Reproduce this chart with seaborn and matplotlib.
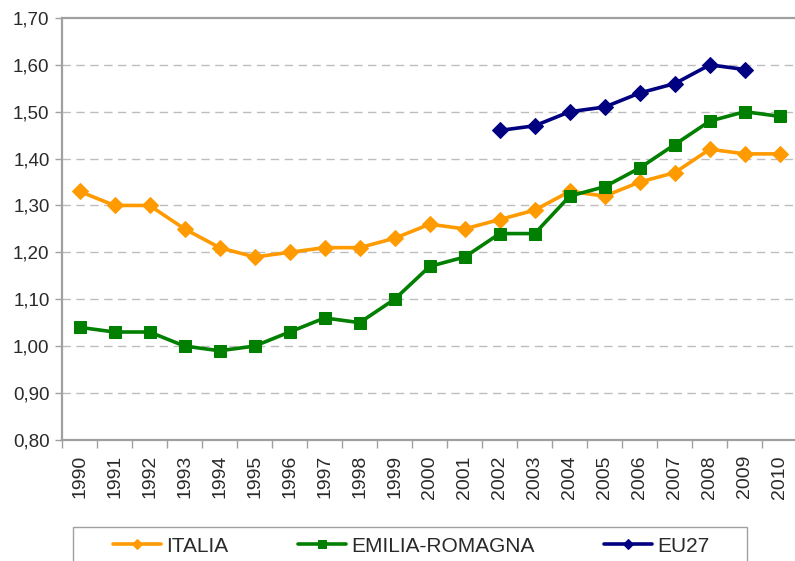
import matplotlib
matplotlib.use("Agg")
import matplotlib.pyplot as plt
from matplotlib.patches import Rectangle
from matplotlib.ticker import FixedLocator, FuncFormatter
import pandas as pd
import seaborn as sns

YEARS = list(range(1990, 2011))
ITALIA = [1.33, 1.30, 1.30, 1.25, 1.21, 1.19, 1.20, 1.21, 1.21, 1.23, 1.26,
          1.25, 1.27, 1.29, 1.33, 1.32, 1.35, 1.37, 1.42, 1.41, 1.41]
EMILIA_ROMAGNA = [1.04, 1.03, 1.03, 1.00, 0.99, 1.00, 1.03, 1.06, 1.05, 1.10,
                  1.17, 1.19, 1.24, 1.24, 1.32, 1.34, 1.38, 1.43, 1.48, 1.50, 1.49]
EU27_YEARS = list(range(2002, 2010))
EU27 = [1.46, 1.47, 1.50, 1.51, 1.54, 1.56, 1.60, 1.59]

SERIES = [
    ("ITALIA", YEARS, ITALIA, "#FF9B00", "D", 8),
    ("EMILIA-ROMAGNA", YEARS, EMILIA_ROMAGNA, "#007F00", "s", 8),
    ("EU27", EU27_YEARS, EU27, "#000080", "D", 8),
]

W, H = 795, 561


def main() -> None:
    sns.set_style("white")
    plt.rcParams["font.family"] = ["Liberation Sans", "DejaVu Sans"]

    fig = plt.figure(figsize=(W / 100, H / 100), dpi=100)
    ax = fig.add_axes([0.078, 0.216, 0.925, 0.752])

    for name, xs, ys, color, marker, msize in SERIES:
        df = pd.DataFrame({"year": xs, "value": ys})
        sns.lineplot(
            data=df, x="year", y="value", ax=ax, color=color,
            linewidth=2.6, marker=marker, markersize=msize,
            markeredgecolor=color, label=name, legend=False,
        )

    ax.set_xlim(1989.5, 2010.5)
    ax.set_ylim(0.80, 1.70)
    ax.set_xlabel("")
    ax.set_ylabel("")

    yt = [0.80 + 0.1 * i for i in range(10)]
    ax.set_yticks(yt)
    ax.yaxis.set_major_formatter(FuncFormatter(lambda v, p: f"{v:.2f}".replace(".", ",")))
    ax.set_xticks(YEARS)
    ax.set_xticklabels([str(y) for y in YEARS], rotation=90)
    ax.xaxis.set_minor_locator(FixedLocator([y - 0.5 for y in YEARS] + [2010.5]))

    ax.tick_params(axis="x", which="major", length=0, pad=11, labelsize=14,
                   labelcolor="#2a2a2a")
    ax.tick_params(axis="x", which="minor", length=6, width=1, color="#A0A0A0",
                   direction="out", bottom=True)
    ax.tick_params(axis="y", which="major", length=5, width=1, color="#A0A0A0",
                   direction="out", left=True, labelsize=13.5, labelcolor="#2a2a2a",
                   pad=4)

    for y in yt[1:-1]:
        ax.axhline(y, color="#BDBDBD", linewidth=1, linestyle=(0, (6, 4)), zorder=0)

    for side in ["left", "bottom", "top"]:
        ax.spines[side].set_color("#A0A0A0")
        ax.spines[side].set_linewidth(1.6)
    ax.spines["right"].set_visible(False)

    # legend frame drawn by hand to match the original box
    fig.patches.append(Rectangle(
        (73 / W, 1 - 590 / H), (747 - 73) / W, (590 - 527) / H,
        transform=fig.transFigure, fill=False, edgecolor="#A0A0A0",
        linewidth=1,
    ))

    handles, labels = ax.get_legend_handles_labels()
    leg = fig.legend(
        handles, labels, loc="center left", ncol=3,
        bbox_to_anchor=(113 / W, 1 - 546 / H),
        frameon=False, handlelength=2.3, handletextpad=0.25,
        columnspacing=3.35, borderpad=0, borderaxespad=0, markerscale=0.7,
        fontsize=15,
    )
    for t in leg.get_texts():
        t.set_color("#2a2a2a")

    fig.savefig("out.png", dpi=100)
    plt.close(fig)


if __name__ == "__main__":
    main()
